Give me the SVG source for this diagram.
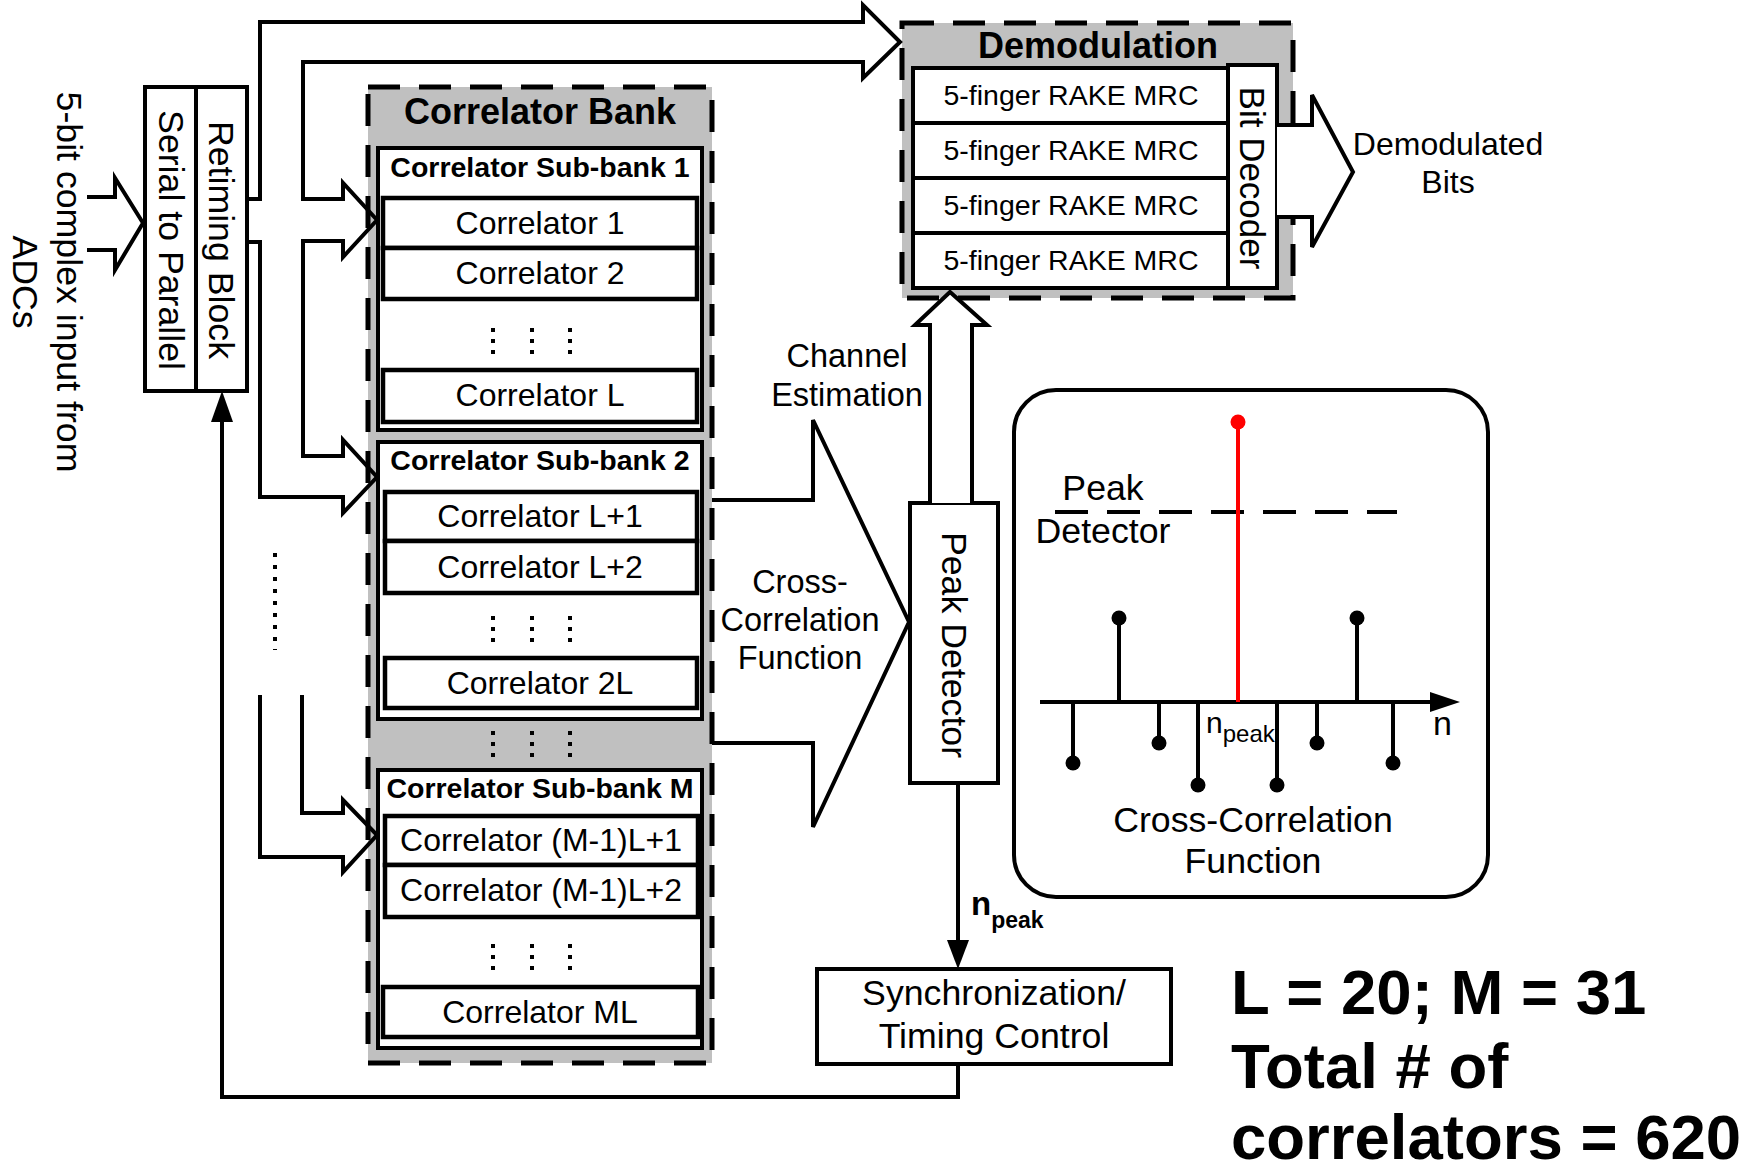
<svg xmlns="http://www.w3.org/2000/svg" width="1750" height="1173" viewBox="0 0 1750 1173">
<style>
.bx{fill:#fff;stroke:#000;stroke-width:4}
.cb{fill:#fff;stroke:#000;stroke-width:4.5}
.dsh{fill:#c0c0c0;stroke:#000;stroke-width:5;stroke-dasharray:32 19}
.ln{fill:none;stroke:#000;stroke-width:4}
.wf{fill:#fff;stroke:#000;stroke-width:4}
.ah{fill:#000;stroke:none}
text{font-family:"Liberation Sans",Arial,sans-serif;fill:#000}
.m{text-anchor:middle}
.f28{font-size:28.5px}
.f31{font-size:32px}
.f32{font-size:32.5px}
.f34{font-size:35.7px}
.f35{font-size:35.7px}
.b{font-weight:bold}
</style>
<defs>
<g id="ell">
<rect x="-41" y="-2" width="4" height="4"/><rect x="-41" y="9" width="4" height="4"/><rect x="-41" y="20" width="4" height="4"/>
<rect x="-2" y="-2" width="4" height="4"/><rect x="-2" y="9" width="4" height="4"/><rect x="-2" y="20" width="4" height="4"/>
<rect x="36" y="-2" width="4" height="4"/><rect x="36" y="9" width="4" height="4"/><rect x="36" y="20" width="4" height="4"/>
</g>
</defs>
<rect x="0" y="0" width="1750" height="1173" fill="#fff"/>

<g id="input-label">
<text class="f35 m" transform="translate(57,282) rotate(90)">5-bit complex input from</text>
<text class="f35 m" transform="translate(13,282) rotate(90)">ADCs</text>
</g>

<g id="serial-retiming">
<rect class="bx" x="145" y="87" width="102" height="304"/>
<line class="ln" x1="196" y1="87" x2="196" y2="391"/>
<text class="f35 m" transform="translate(159,240) rotate(90)">Serial to Parallel</text>
<text class="f35 m" transform="translate(209,240) rotate(90)">Retiming Block</text>
</g>

<g id="correlator-bank">
<rect class="dsh" x="368" y="87" width="344" height="976"/>
<text class="m b" font-size="36" x="540" y="124">Correlator Bank</text>
<g id="subbank-1">
<rect class="bx" x="378" y="148" width="324" height="282"/>
<text class="f28 m b" x="540" y="177">Correlator Sub-bank 1</text>
<rect class="cb" x="383" y="198" width="314" height="50"/>
<text class="f31 m" x="540" y="234">Correlator 1</text>
<rect class="cb" x="383" y="248" width="314" height="51"/>
<text class="f31 m" x="540" y="284">Correlator 2</text>
<use href="#ell" x="532" y="330"/>
<rect class="cb" x="383" y="370" width="314" height="52"/>
<text class="f31 m" x="540" y="406">Correlator L</text>
</g>
<g id="subbank-2">
<rect class="bx" x="378" y="442" width="324" height="277"/>
<text class="f28 m b" x="540" y="470">Correlator Sub-bank 2</text>
<rect class="cb" x="385" y="492" width="312" height="49"/>
<text class="f31 m" x="540" y="527">Correlator L+1</text>
<rect class="cb" x="385" y="541" width="312" height="52"/>
<text class="f31 m" x="540" y="578">Correlator L+2</text>
<use href="#ell" x="532" y="618"/>
<rect class="cb" x="385" y="658" width="312" height="50"/>
<text class="f31 m" x="540" y="694">Correlator 2L</text>
</g>
<use href="#ell" x="532" y="733"/>
<g id="subbank-M">
<rect class="bx" x="378" y="770" width="324" height="278"/>
<text class="f28 m b" x="540" y="798">Correlator Sub-bank M</text>
<rect class="cb" x="385" y="816" width="313" height="49"/>
<text class="f31 m" x="541" y="851">Correlator (M-1)L+1</text>
<rect class="cb" x="385" y="865" width="313" height="52"/>
<text class="f31 m" x="541" y="901">Correlator (M-1)L+2</text>
<use href="#ell" x="532" y="946"/>
<rect class="cb" x="383" y="987" width="315" height="50"/>
<text class="f31 m" x="540" y="1023">Correlator ML</text>
</g>
</g>

<g id="demodulation">
<rect class="dsh" x="902" y="23" width="391" height="275"/>
<text class="m b" font-size="36" x="1098" y="58">Demodulation</text>
<rect class="bx" x="913" y="68" width="315" height="55"/>
<text class="f28 m" x="1071" y="105">5-finger RAKE MRC</text>
<rect class="bx" x="913" y="123" width="315" height="55"/>
<text class="f28 m" x="1071" y="160">5-finger RAKE MRC</text>
<rect class="bx" x="913" y="178" width="315" height="55"/>
<text class="f28 m" x="1071" y="215">5-finger RAKE MRC</text>
<rect class="bx" x="913" y="233" width="315" height="55"/>
<text class="f28 m" x="1071" y="270">5-finger RAKE MRC</text>
<rect class="bx" x="1228" y="65" width="49" height="223"/>
<text class="m" font-size="35" transform="translate(1240,178) rotate(90)">Bit Decoder</text>
</g>

<g id="peak-detector">
<rect class="bx" x="910" y="503" width="88" height="280"/>
<text class="f35 m" transform="translate(942,645) rotate(90)">Peak Detector</text>
</g>

<g id="sync-timing">
<rect class="bx" x="817" y="969" width="354" height="95"/>
<text class="f35 m" x="994" y="1005">Synchronization/</text>
<text class="f35 m" x="994" y="1048">Timing Control</text>
</g>

<g id="ccf-plot">
<rect class="ln" x="1014" y="390" width="474" height="507" rx="42" ry="42"/>
<line class="ln" x1="1055" y1="512" x2="1397" y2="512" stroke-dasharray="33 19"/>
<text class="f34 m" x="1103" y="500">Peak</text>
<text class="f34 m" x="1103" y="543">Detector</text>
<line class="ln" x1="1040" y1="702" x2="1432" y2="702"/>
<polygon class="ah" points="1460,702 1430,692 1430,712"/>
<g stroke="#000" stroke-width="4">
<line x1="1073" y1="702" x2="1073" y2="763"/>
<line x1="1119" y1="702" x2="1119" y2="618"/>
<line x1="1159" y1="702" x2="1159" y2="743"/>
<line x1="1198" y1="702" x2="1198" y2="785"/>
<line x1="1277" y1="702" x2="1277" y2="785"/>
<line x1="1317" y1="702" x2="1317" y2="743"/>
<line x1="1357" y1="702" x2="1357" y2="618"/>
<line x1="1393" y1="702" x2="1393" y2="763"/>
</g>
<g fill="#000">
<circle cx="1073" cy="763" r="7.5"/>
<circle cx="1119" cy="618" r="7.5"/>
<circle cx="1159" cy="743" r="7.5"/>
<circle cx="1198" cy="785" r="7.5"/>
<circle cx="1277" cy="785" r="7.5"/>
<circle cx="1317" cy="743" r="7.5"/>
<circle cx="1357" cy="618" r="7.5"/>
<circle cx="1393" cy="763" r="7.5"/>
</g>
<line x1="1238" y1="702" x2="1238" y2="422" stroke="#ff0000" stroke-width="4"/>
<circle cx="1238" cy="422" r="7.5" fill="#ff0000"/>
<text x="1206" y="733" font-size="30">n<tspan font-size="24" dy="9">peak</tspan></text>
<text x="1433" y="735" font-size="34">n</text>
<text class="f34 m" x="1253" y="832">Cross-Correlation</text>
<text class="f34 m" x="1253" y="873">Function</text>
</g>

<g id="connectors">
<path class="ln" d="M87,197 H115 V178 L143,223 L115,270 V250 H87"/>
<path class="ln" d="M247,199 H260 V22 H863 V5 L900,42 L863,78 V62 H303 V199 H343 V183 L377,220 L343,257 V241 H303 V456 H343 V440 L377,477 L343,513 V497 H260 V242 H247"/>
<line class="ln" x1="275" y1="553" x2="275" y2="650" stroke-dasharray="4 8"/>
<path class="ln" d="M260,695 V857 H343 V872 L377,835 L343,800 V813 H302 V695"/>
<path class="ln" d="M712,500 H813 V420 L909,622 L813,827 V743 H712"/>
<path class="wf" d="M930,503 V325 H915 L950,292 L987,325 H972 V503"/>
<path class="wf" d="M1277,125 H1312 V95 L1353,172 L1312,247 V217 H1277"/>
<line class="ln" x1="958" y1="783" x2="958" y2="942"/>
<polygon class="ah" points="958,969 947,940 969,940"/>
<path class="ln" d="M958,1064 V1097 H222 V420"/>
<polygon class="ah" points="222,391 211,422 233,422"/>
</g>

<g id="labels">
<text class="f32 m" x="847" y="367">Channel</text>
<text class="f32 m" x="847" y="406">Estimation</text>
<text class="f32 m" x="800" y="593">Cross-</text>
<text class="f32 m" x="800" y="631">Correlation</text>
<text class="f32 m" x="800" y="669">Function</text>
<text class="m" font-size="32" x="1448" y="155">Demodulated</text>
<text class="m" font-size="32" x="1448" y="193">Bits</text>
<text x="971" y="915" font-size="33" font-weight="bold">n<tspan font-size="23" dy="13">peak</tspan></text>
<text x="1231" y="1014" font-size="63.5" font-weight="bold">L = 20; M = 31</text>
<text x="1231" y="1088" font-size="63.5" font-weight="bold">Total # of</text>
<text x="1231" y="1159" font-size="63.5" font-weight="bold">correlators = 620</text>
</g>
</svg>
